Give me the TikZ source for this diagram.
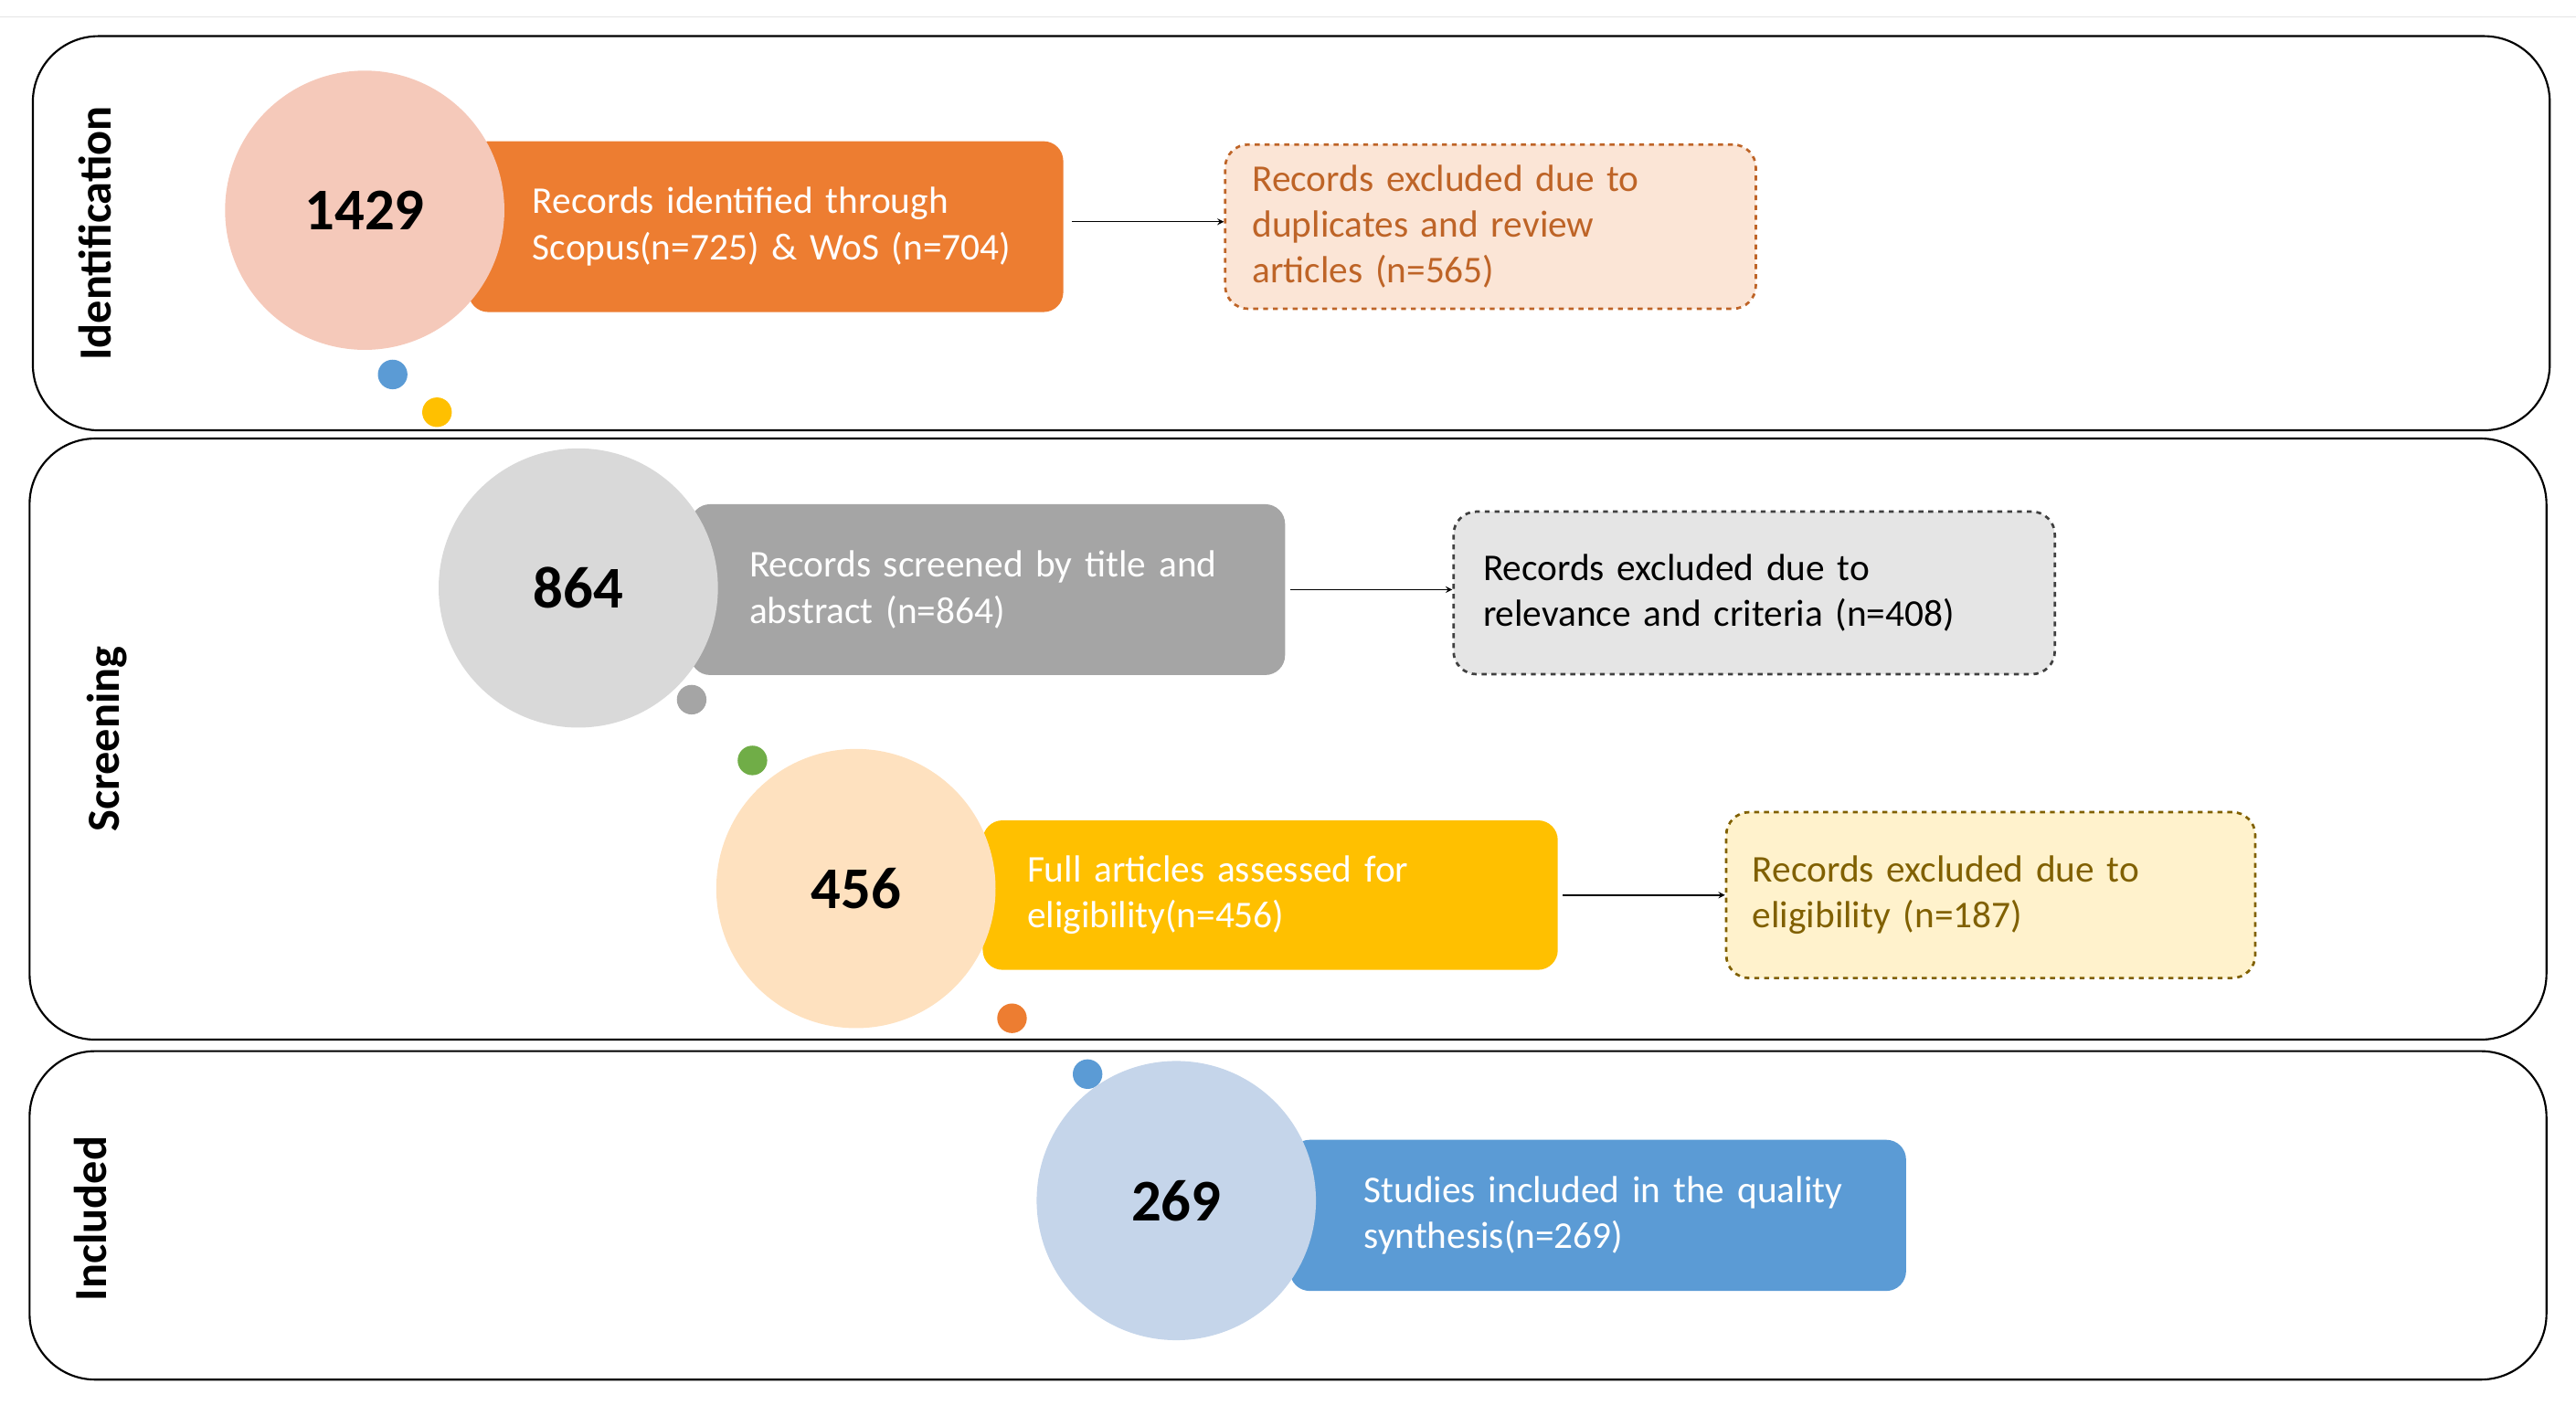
\documentclass[tikz,border=0pt]{standalone}
\usepackage{fontspec}
\setmainfont{Carlito}
\definecolor{orangeA}{HTML}{ED7D31}
\definecolor{pinkA}{HTML}{F5C9BA}
\definecolor{greyA}{HTML}{A5A5A5}
\definecolor{greyB}{HTML}{D9D9D9}
\definecolor{goldA}{HTML}{FFC000}
\definecolor{peachA}{HTML}{FEE1BF}
\definecolor{blueA}{HTML}{5B9BD5}
\definecolor{blueB}{HTML}{C5D5EA}
\definecolor{greenA}{HTML}{70AD47}
\tikzset{
  panel/.style={draw, line width=1.2pt, rounded corners=40pt},
  stage/.style={font=\bfseries\fontsize{28}{30}\selectfont, rotate=90},
  num/.style={circle, minimum size=170pt, inner sep=0pt, font=\bfseries\fontsize{36}{40}\selectfont},
  bar/.style={rounded corners=12pt, text=white, align=left, font=\fontsize{23}{28}\selectfont, anchor=west},
  excl/.style={draw, dashed, line width=1.5pt, rounded corners=14pt, align=left, font=\fontsize{23}{28}\selectfont, anchor=west},
  dot/.style={circle, minimum size=18pt, inner sep=0pt},
  >=stealth
}
\begin{document}
\begin{tikzpicture}[x=1pt,y=-1pt]
    \useasboundingbox (0,0) rectangle (1568,855);
    \draw[black!10] (0,10) -- (1568,10);

    % panels
    \draw[panel] (20,22) rectangle (1552,262);
    \draw[panel] (18,267) rectangle (1550,633);
    \draw[panel] (18,640) rectangle (1550,840);
    \node[stage] at (58,142) {Identification};
    \node[stage] at (65,450) {Screening};
    \node[stage] at (55,742) {Included};

    % identification
    \node[bar, fill=orangeA, minimum width=362pt, minimum height=104pt, text width=320pt, inner xsep=20pt] (idbox) at (285,138) {\hspace*{18pt}Records identified through\\\hspace*{18pt}Scopus(n=725) \& WoS (n=704)};
    \node[num, fill=pinkA] (idnum) at (222,128) {1429};
    \node[excl, fill=orangeA!20, draw=orangeA!80!black, text=orangeA!80!black, minimum width=323pt, minimum height=100pt, text width=290pt] (idex) at (745,138) {Records excluded due to\\duplicates and review\\articles (n=565)};
    \draw[->, thick] (idbox.east) ++(5,-3) coordinate (a1) -- (a1 -| idex.west);
    \node[dot, fill=blueA] at (239,228) {};
    \node[dot, fill=goldA] at (266,251) {};

    % screening
    \node[bar, fill=greyA, minimum width=362pt, minimum height=104pt, text width=320pt, inner xsep=20pt] (scbox) at (420,359) {\hspace*{15pt}Records screened by title and\\\hspace*{15pt}abstract (n=864)};
    \node[num, fill=greyB] (scnum) at (352,358) {864};
    \node[excl, fill=black!10, draw=black!75, minimum width=366pt, minimum height=99pt, text width=330pt] (scex) at (884,361) {Records excluded due to\\relevance and criteria (n=408)};
    \draw[->, thick] (scbox.east) ++(3,0) coordinate (a2) -- (a2 -| scex.west);
    \node[dot, fill=greyA] at (421,426) {};
    \node[dot, fill=greenA] at (458,463) {};

    \node[bar, fill=goldA, minimum width=349pt, minimum height=91pt, text width=310pt, inner xsep=20pt] (elbox) at (598,545) {\hspace*{7pt}Full articles assessed for\\\hspace*{7pt}eligibility(n=456)};
    \node[num, fill=peachA] (elnum) at (521,541) {456};
    \node[excl, fill=goldA!20, draw=goldA!50!black, text=goldA!50!black, minimum width=322pt, minimum height=101pt, text width=290pt] (elex) at (1050,545) {Records excluded due to\\eligibility (n=187)};
    \draw[->, thick] (elbox.east) ++(3,0) coordinate (a3) -- (a3 -| elex.west);
    \node[dot, fill=orangeA] at (616,620) {};

    % included
    \node[dot, fill=blueA] at (662,654) {};
    \node[bar, fill=blueA, minimum width=373pt, minimum height=92pt, text width=335pt, inner xsep=20pt] (inbox) at (785,740) {\hspace*{25pt}Studies included in the quality\\\hspace*{25pt}synthesis(n=269)};
    \node[num, fill=blueB] (innum) at (716,731) {269};
\end{tikzpicture}
\end{document}
